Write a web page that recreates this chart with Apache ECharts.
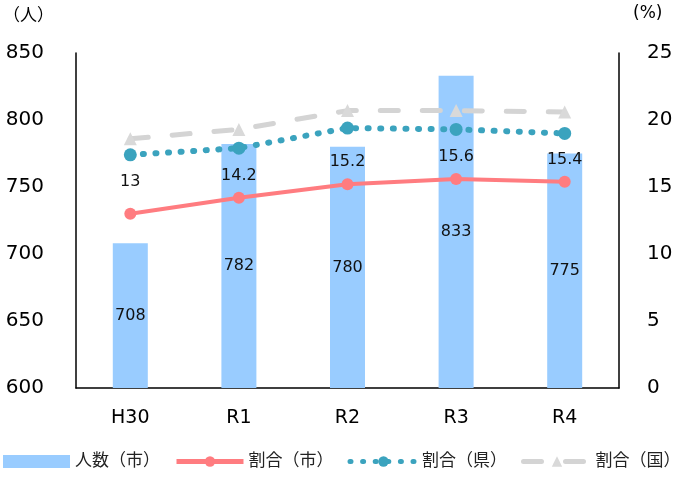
<!DOCTYPE html>
<html>
<head>
<meta charset="utf-8">
<script src="https://cdn.jsdelivr.net/npm/echarts@6/dist/echarts.min.js"></script>
<style>html,body{margin:0;padding:0;background:#fff}#c{width:700px;height:479px}</style>
</head>
<body>
<div id="c"></div>
<script>
const categories = ['H30', 'R1', 'R2', 'R3', 'R4'];
const peopleCity = [708, 782, 780, 833, 775];
const rateCity = [13, 14.2, 15.2, 15.6, 15.4];
const ratePref = [17.4, 17.9, 19.4, 19.3, 19.0];
const rateNation = [18.6, 19.3, 20.7, 20.7, 20.6];
const leftTicks = [600, 650, 700, 750, 800, 850];
const rightTicks = [0, 5, 10, 15, 20, 25];

const FONT = '"DejaVu Sans", "Noto Sans CJK JP", sans-serif';
const chart = echarts.init(document.getElementById('c'));
chart.setOption({
  animation: false,
  textStyle: { fontFamily: FONT },
  grid: { left: 74, right: 81, top: 53, bottom: 91 },
  legend: {
    bottom: 9, left: 3, width: 697, padding: 0,
    itemWidth: 67, itemHeight: 13, itemGap: 14,
    textStyle: { fontSize: 17, color: '#222', fontFamily: FONT },
    data: [
      { name: '人数（市）', icon: 'rect' },
      { name: '割合（市）', lineStyle: { width: 5 } },
      { name: '割合（県）', lineStyle: { width: 5 } },
      { name: '割合（国）', lineStyle: { width: 5 } }
    ]
  },
  xAxis: {
    type: 'category', data: categories,
    axisLine: { lineStyle: { color: '#000', width: 1.5 } },
    axisTick: { show: false },
    axisLabel: { color: '#000', fontSize: 19, margin: 21, fontFamily: FONT }
  },
  yAxis: [
    {
      type: 'value', min: leftTicks[0], max: leftTicks[leftTicks.length - 1], interval: 50,
      name: '（人）', nameLocation: 'end', nameGap: 28,
      nameTextStyle: { fontSize: 17, color: '#000', align: 'right', padding: [0, 22, 0, 0] },
      axisLine: { show: true, lineStyle: { color: '#000', width: 1.5 } },
      axisTick: { show: false },
      splitLine: { show: false },
      axisLabel: { color: '#000', fontSize: 20, margin: 32, fontFamily: FONT }
    },
    {
      type: 'value', min: rightTicks[0], max: rightTicks[rightTicks.length - 1], interval: 5,
      name: '(%)', nameLocation: 'end', nameGap: 31,
      nameTextStyle: { fontSize: 17, color: '#000', align: 'left', padding: [0, 0, 0, 14] },
      axisLine: { show: true, lineStyle: { color: '#000', width: 1.5 } },
      axisTick: { show: false },
      splitLine: { show: false },
      axisLabel: { color: '#000', fontSize: 20, margin: 28, fontFamily: FONT }
    }
  ],
  series: [
    {
      name: '人数（市）', type: 'bar', data: peopleCity, yAxisIndex: 0,
      barWidth: 35,
      itemStyle: { color: '#99CCFF' },
      label: { show: true, position: 'inside', color: '#111', fontSize: 16, fontFamily: FONT }
    },
    {
      name: '割合（国）', type: 'line', data: rateNation, yAxisIndex: 1,
      symbol: 'triangle', symbolSize: 13,
      itemStyle: { color: '#D9D9D9' },
      lineStyle: { color: '#D4D4D4', width: 5, type: [18, 24], cap: 'round' },
      z: 3
    },
    {
      name: '割合（県）', type: 'line', data: ratePref, yAxisIndex: 1,
      symbol: 'circle', symbolSize: 13,
      itemStyle: { color: '#3BA3BE' },
      lineStyle: { color: '#3BA3BE', width: 6, type: [1, 11.6], cap: 'round' },
      z: 4
    },
    {
      name: '割合（市）', type: 'line', data: rateCity.map((v, i) => i === 0 ? { value: v, label: { distance: 18 } } : v), yAxisIndex: 1,
      symbol: 'circle', symbolSize: 12,
      itemStyle: { color: '#FF7C80' },
      lineStyle: { color: '#FF7C80', width: 4 },
      label: { show: true, position: 'top', distance: 8, color: '#111', fontSize: 16, fontFamily: FONT },
      z: 5
    }
  ]
});
</script>
</body>
</html>
